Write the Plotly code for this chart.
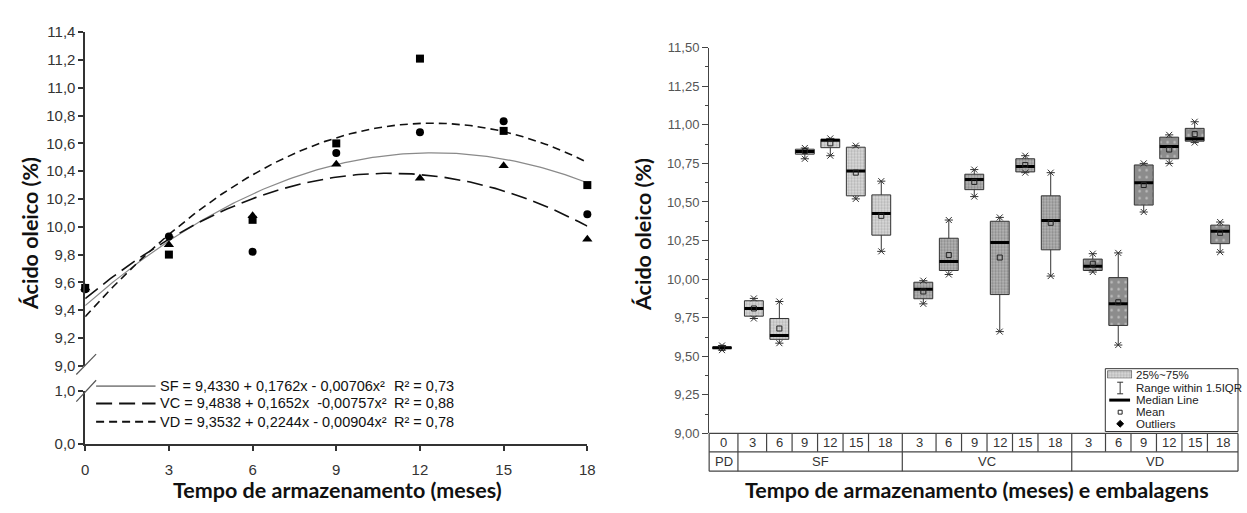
import numpy as np
import plotly.graph_objects as go

W, H = 1247, 513


def px(x):
    return x / W


def py(y):
    return 1 - y / H


# ---------------- Left panel: oleic acid vs storage time ----------------
months = [0, 3, 6, 9, 12, 15, 18]
square_vals = [9.56, 9.80, 10.05, 10.60, 11.21, 10.69, 10.30]
circle_vals = [9.55, 9.93, 9.82, 10.53, 10.68, 10.76, 10.09]
triangle_vals = [9.56, 9.87, 10.08, 10.45, 10.35, 10.44, 9.91]

# quadratic fits: a + b*x + c*x^2
sf_coef = [9.4330, 0.1762, -0.00706]
vc_coef = [9.4838, 0.1652, -0.00757]
vd_coef = [9.3532, 0.2244, -0.00904]
fit_labels = [
    "SF = 9,4330 + 0,1762x - 0,00706x²",
    "VC = 9,4838 + 0,1652x  -0,00757x²",
    "VD = 9,3532 + 0,2244x - 0,00904x²",
]
r2_labels = ["R² = 0,73", "R² = 0,88", "R² = 0,78"]

# ---------------- Right panel: box summaries per package / month ----------------
group_names = ["PD", "SF", "VC", "VD"]
group_months = [
    ["0"],
    ["3", "6", "9", "12", "15", "18"],
    ["3", "6", "9", "12", "15", "18"],
    ["3", "6", "9", "12", "15", "18"],
]
box_low = [9.54, 9.745, 9.585, 10.78, 10.80, 10.52, 10.18,
           9.84, 10.03, 10.535, 9.66, 10.69, 10.02,
           10.046, 9.573, 10.435, 10.75, 10.885, 10.175]
box_q1 = [9.55, 9.76, 9.61, 10.81, 10.852, 10.54, 10.285,
          9.873, 10.056, 10.58, 9.90, 10.695, 10.19,
          10.056, 9.70, 10.48, 10.78, 10.894, 10.23]
box_med = [9.555, 9.81, 9.635, 10.827, 10.90, 10.70, 10.425,
           9.935, 10.115, 10.646, 10.2375, 10.73, 10.38,
           10.083, 9.84, 10.625, 10.86, 10.91, 10.31]
box_q3 = [9.56, 9.86, 9.745, 10.842, 10.906, 10.855, 10.546,
          9.98, 10.265, 10.68, 10.375, 10.78, 10.54,
          10.13, 10.01, 10.74, 10.92, 10.977, 10.35]
box_high = [9.57, 9.875, 9.855, 10.85, 10.912, 10.865, 10.635,
            9.99, 10.383, 10.71, 10.40, 10.80, 10.69,
            10.165, 10.17, 10.75, 10.935, 11.02, 10.37]
box_mean = [9.555, 9.81, 9.68, 10.83, 10.88, 10.69, 10.41,
            9.92, 10.156, 10.63, 10.14, 10.74, 10.365,
            10.10, 9.85, 10.61, 10.84, 10.94, 10.30]

# box fill styles per package
group_fill = {
    "PD": dict(shape=".", fgcolor="#555555", bgcolor="#cfcfcf", size=3, solidity=0.45),
    "SF": dict(shape=".", fgcolor="#8a8a8a", bgcolor="#dcdcdc", size=3, solidity=0.45),
    "VC": dict(shape=".", fgcolor="#5a5a5a", bgcolor="#b8b8b8", size=3, solidity=0.45),
    "VD": dict(shape=".", fgcolor="#f2f2f2", bgcolor="#8c8c8c", size=7, solidity=0.1),
}

SANS = "Liberation Sans, Arial, sans-serif"
TICK_FONT = dict(family=SANS, size=15, color="#333333")
TITLE_FONT = dict(family="Lato, Open Sans, sans-serif", size=21.5, color="#111111",
                  weight="bold")
INK = "#333333"

fig = go.Figure()

# ---- left panel: fitted curves ----
xs = np.linspace(0, 18, 181)


def quad(c, x):
    return c[0] + c[1] * x + c[2] * x ** 2


curve_styles = [
    dict(color="#8a8a8a", width=1.2, dash="solid"),
    dict(color="#111111", width=1.6, dash="16px,7px"),
    dict(color="#111111", width=1.6, dash="8px,5px"),
]
for coef, st in zip([sf_coef, vc_coef, vd_coef], curve_styles):
    fig.add_trace(go.Scatter(x=xs, y=quad(coef, xs), mode="lines", line=st,
                             xaxis="x", yaxis="y", showlegend=False, hoverinfo="skip"))

# ---- left panel: observed means ----
for vals, sym, size in [(triangle_vals, "triangle-up", 9),
                        (circle_vals, "circle", 8),
                        (square_vals, "square", 8)]:
    fig.add_trace(go.Scatter(x=months, y=vals, mode="markers",
                             marker=dict(symbol=sym, size=size, color="#000000"),
                             xaxis="x", yaxis="y", cliponaxis=False, showlegend=False))

# empty trace so the lower (0-1) segment of the broken axis forms its own subplot
fig.add_trace(go.Scatter(x=[None], y=[None], mode="markers", xaxis="x", yaxis="y2",
                         showlegend=False, hoverinfo="skip"))

# ---- right panel: box positions (group spacing) ----
group_gap = [0.0, 1.25, 1.65, 1.65]
positions, cat_labels, cat_groups = [], [], []
cur = 0.0
for gi, (g, ms) in enumerate(zip(group_names, group_months)):
    for mi, m in enumerate(ms):
        if positions:
            cur += group_gap[gi] if mi == 0 else 1.0
        positions.append(cur)
        cat_labels.append(m)
        cat_groups.append(g)

X3_RANGE = [-0.505, 20.25]
BOX_W = 0.74
HALF = BOX_W / 2

# boxes (Q1 .. Q3) with hatched fill
for g in group_names:
    idx = [i for i, cg in enumerate(cat_groups) if cg == g]
    fig.add_trace(go.Bar(
        x=[positions[i] for i in idx],
        base=[box_q1[i] for i in idx],
        y=[box_q3[i] - box_q1[i] for i in idx],
        width=BOX_W,
        marker=dict(color=group_fill[g]["bgcolor"], pattern=group_fill[g],
                    line=dict(color=INK, width=1)),
        xaxis="x3", yaxis="y3", showlegend=False, hoverinfo="skip"))

# whiskers with end caps
wx, wy = [], []
for p, lo, q1, q3, hi in zip(positions, box_low, box_q1, box_q3, box_high):
    wx += [p, p, None, p, p, None, p - 0.16, p + 0.16, None, p - 0.16, p + 0.16, None]
    wy += [lo, q1, None, q3, hi, None, lo, lo, None, hi, hi, None]
fig.add_trace(go.Scatter(x=wx, y=wy, mode="lines", line=dict(color=INK, width=1),
                         xaxis="x3", yaxis="y3", showlegend=False, hoverinfo="skip"))
fig.add_trace(go.Scatter(x=positions + positions, y=box_low + box_high, mode="markers",
                         marker=dict(symbol="x-thin", size=6, line=dict(color=INK, width=1)),
                         xaxis="x3", yaxis="y3", showlegend=False, hoverinfo="skip"))

# median lines
mx, my = [], []
for p, m in zip(positions, box_med):
    mx += [p - HALF, p + HALF, None]
    my += [m, m, None]
fig.add_trace(go.Scatter(x=mx, y=my, mode="lines", line=dict(color="#000000", width=3),
                         xaxis="x3", yaxis="y3", showlegend=False, hoverinfo="skip"))

# means
fig.add_trace(go.Scatter(x=positions, y=box_mean, mode="markers",
                         marker=dict(symbol="square-open", size=5, color="#222222",
                                     line=dict(width=1)),
                         xaxis="x3", yaxis="y3", showlegend=False, hoverinfo="skip"))

# legend swatch drawn on its own tiny axes so it can carry the fill pattern
fig.add_trace(go.Bar(x=[0.5], base=[0], y=[1], width=1,
                     marker=dict(color="#dcdcdc", pattern=group_fill["SF"],
                                 line=dict(color=INK, width=1)),
                     xaxis="x4", yaxis="y4", showlegend=False, hoverinfo="skip"))

# ---------------- shapes & annotations ----------------
shapes, annos = [], []


def label(x, y, text, font, xanchor="center", **kw):
    annos.append(dict(x=x, y=y, xref=kw.pop("xref", "paper"), yref="paper", text=text,
                      xanchor=xanchor, yanchor="middle", showarrow=False, font=font, **kw))


# axis break marks on the left panel
for y0, y1 in [(378, 357), (406, 384)]:
    shapes.append(dict(type="line", xref="paper", yref="paper",
                       x0=px(73), y0=py(y0), x1=px(93), y1=py(y1),
                       line=dict(color="#555555", width=1.2)))

# legend of the fitted curves
leg_font = dict(family=SANS, size=14.5, color="#111111")
leg_rows = [390, 408, 427]
for st, row, eq, r2 in zip(curve_styles, leg_rows, fit_labels, r2_labels):
    shapes.append(dict(type="line", xref="paper", yref="paper",
                       x0=px(93), x1=px(153), y0=py(row), y1=py(row),
                       line=dict(color=st["color"], width=st["width"] + 0.4, dash=st["dash"])))
    label(px(156), py(row), eq, leg_font, xanchor="left")
    label(px(392), py(row), r2, leg_font, xanchor="left")

# category table under the right panel
T0, T1, T2 = 439, 458, 478
XL, XR = 712, 1246
tcol = "#444444"
for yy in (T0, T1, T2):
    shapes.append(dict(type="line", xref="paper", yref="paper", x0=px(XL), x1=px(XR),
                       y0=py(yy), y1=py(yy), line=dict(color=tcol, width=1.2)))
for xx in (XL, XR):
    shapes.append(dict(type="line", xref="paper", yref="paper", x0=px(xx), x1=px(xx),
                       y0=py(T0), y1=py(T2), line=dict(color=tcol, width=1.2)))
bounds = [X3_RANGE[0]] + [(positions[i] + positions[i + 1]) / 2
                          for i in range(len(positions) - 1)] + [X3_RANGE[1]]
for i in range(1, len(positions)):
    new_group = cat_groups[i] != cat_groups[i - 1]
    shapes.append(dict(type="line", xref="x3", yref="paper", x0=bounds[i], x1=bounds[i],
                       y0=py(T0), y1=py(T2 if new_group else T1),
                       line=dict(color=tcol, width=1.2)))
table_font = dict(family=SANS, size=13, color="#333333")
for i, lab in enumerate(cat_labels):
    label((bounds[i] + bounds[i + 1]) / 2, py((T0 + T1) / 2), lab, table_font, xref="x3")
for g in group_names:
    idx = [i for i, cg in enumerate(cat_groups) if cg == g]
    label((bounds[idx[0]] + bounds[idx[-1] + 1]) / 2, py((T1 + T2) / 2), g, table_font,
          xref="x3")

# box-plot legend
LX0, LY0, LX1, LY1 = 1112, 372, 1246, 437
shapes.append(dict(type="rect", xref="paper", yref="paper", x0=px(LX0), x1=px(LX1),
                   y0=py(LY0), y1=py(LY1), line=dict(color=INK, width=1),
                   fillcolor="white", layer="below"))
cx = 1127
shapes += [
    dict(type="line", xref="paper", yref="paper", x0=px(cx), x1=px(cx), y0=py(386), y1=py(398),
         line=dict(color=INK, width=1)),
    dict(type="line", xref="paper", yref="paper", x0=px(cx - 3), x1=px(cx + 3), y0=py(386), y1=py(386),
         line=dict(color=INK, width=1)),
    dict(type="line", xref="paper", yref="paper", x0=px(cx - 3), x1=px(cx + 3), y0=py(398), y1=py(398),
         line=dict(color=INK, width=1)),
    dict(type="line", xref="paper", yref="paper", x0=px(1116), x1=px(1137), y0=py(404.5), y1=py(404.5),
         line=dict(color="#000000", width=3)),
    dict(type="rect", xref="paper", yref="paper", x0=px(cx - 2), x1=px(cx + 2), y0=py(415), y1=py(419),
         line=dict(color="#222222", width=1), fillcolor="white"),
    dict(type="path", xref="paper", yref="paper",
         path=f"M {px(cx)} {py(425.5)} L {px(cx + 3.5)} {py(429)} L {px(cx)} {py(432.5)} "
              f"L {px(cx - 3.5)} {py(429)} Z",
         line=dict(color="#000000", width=1), fillcolor="#000000"),
]
legend_font = dict(family=SANS, size=11.5, color="#222222")
for row, txt in zip([378.5, 392, 404.5, 417, 429.5],
                    ["25%~75%", "Range within 1.5IQR", "Median Line", "Mean", "Outliers"]):
    label(px(1141), py(row), txt, legend_font, xanchor="left")

# axis titles
label(px(27), py(232), "Ácido oleico (%)", TITLE_FONT, textangle=-90)
label(px(645), py(233), "Ácido oleico (%)", TITLE_FONT, textangle=-90)
label(px(337), py(497), "Tempo de armazenamento (meses)", TITLE_FONT)
label(px(982), py(497), "Tempo de armazenamento (meses) e embalagens", TITLE_FONT)

axis_common = dict(showgrid=False, zeroline=False, showline=True, linecolor=INK,
                   linewidth=1.5, ticks="outside", ticklen=5, tickwidth=1.5,
                   tickcolor=INK, tickfont=TICK_FONT)

fig.update_layout(
    width=W, height=H, autosize=False,
    margin=dict(l=0, r=0, t=0, b=0),
    paper_bgcolor="white", plot_bgcolor="rgba(0,0,0,0)",
    separators=",.",
    barmode="overlay",
    showlegend=False,
    xaxis=dict(domain=[px(82), px(589)], range=[0, 18], anchor="y2",
               tickvals=months, ticklabelstandoff=6, **axis_common),
    yaxis=dict(domain=[py(369), py(24)], range=[9.0, 11.4], anchor="x",
               tick0=9.0, dtick=0.2, tickformat=".1f", **axis_common),
    yaxis2=dict(domain=[py(450), py(395)], range=[0, 1.0], anchor="x",
                tickvals=[0, 1], tickformat=".1f", **axis_common),
    xaxis3=dict(domain=[px(XL), px(XR)], range=X3_RANGE, anchor="y3",
                showgrid=False, zeroline=False, showline=False, showticklabels=False,
                ticks=""),
    yaxis3=dict(domain=[py(T0), py(40)], range=[9.0, 11.5], anchor="x3",
                tick0=9.0, dtick=0.25, tickformat=".2f",
                showgrid=False, zeroline=False, showline=True, linecolor="#444444",
                linewidth=1.2, ticks="outside", ticklen=6, tickwidth=1.2, tickcolor="#444444",
                minor=dict(dtick=0.125, ticks="outside", ticklen=3, tickcolor="#444444", tickwidth=1),
                tickfont=dict(family=SANS, size=13, color="#555555")),
    xaxis4=dict(domain=[px(1114), px(1139)], range=[0, 1], visible=False, anchor="y4"),
    yaxis4=dict(domain=[py(382), py(374)], range=[0, 1], visible=False, anchor="x4"),
    shapes=shapes,
    annotations=annos,
)

fig.write_html("out.html")
